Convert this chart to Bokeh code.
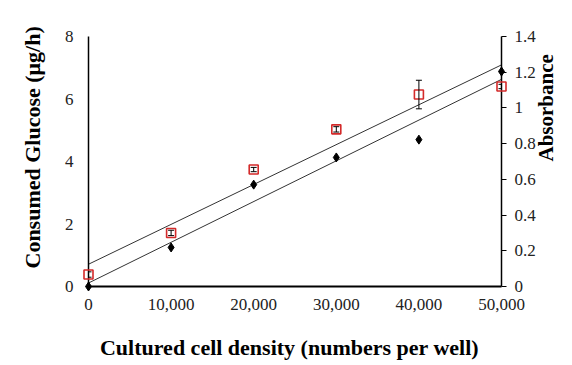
import numpy as np
from bokeh.plotting import figure
from bokeh.models import (Range1d, LinearAxis, FixedTicker, NumeralTickFormatter,
                          Title, ColumnDataSource, Whisker)
from bokeh.embed import file_html
from bokeh.resources import INLINE

# ---- data ----
cell_density = [0, 10000, 20000, 30000, 40000, 50000]
glucose = [0.0, 1.25, 3.26, 4.13, 4.70, 6.88]          # left axis (µg/h)
absorbance = [0.067, 0.30, 0.655, 0.88, 1.075, 1.12]   # right axis
absorbance_err = [0.015, 0.015, 0.012, 0.015, 0.08, 0.012]

left_ticks = [0, 2, 4, 6, 8]
right_ticks = [0, 0.2, 0.4, 0.6, 0.8, 1.0, 1.2, 1.4]
x_ticks = [0, 10000, 20000, 30000, 40000, 50000]

FONT = "Liberation Serif"

p = figure(width=572, height=365, output_backend="svg", toolbar_location=None,
           x_range=Range1d(0, 50000), y_range=Range1d(0, 8))
p.min_border_left = 88
p.min_border_right = 70
p.min_border_top = 36
p.min_border_bottom = 79
p.outline_line_color = None
p.grid.visible = False
p.background_fill_color = "white"
p.border_fill_color = "white"

p.extra_y_ranges = {"abs": Range1d(0, 1.4)}

# axes
xa = p.xaxis[0]
xa.ticker = FixedTicker(ticks=x_ticks)
xa.formatter = NumeralTickFormatter(format="0,0")
xa.major_tick_out = 0
xa.major_tick_in = 0
xa.minor_tick_line_color = None
xa.axis_line_width = 2
xa.axis_line_color = "black"
xa.major_label_standoff = 12
xa.major_label_text_font = FONT
xa.major_label_text_font_size = "17px"
xa.major_label_text_color = "#222222"
xa.axis_label = "Cultured  cell  density (numbers per well)"
xa.axis_label_standoff = 22
xa.axis_label_text_font = FONT
xa.axis_label_text_font_size = "22px"
xa.axis_label_text_font_style = "bold"
xa.axis_label_text_color = "black"

ya = p.yaxis[0]
ya.ticker = FixedTicker(ticks=left_ticks)
ya.major_tick_out = 0
ya.major_tick_in = 0
ya.minor_tick_line_color = None
ya.axis_line_width = 1.5
ya.axis_line_color = "black"
ya.major_label_standoff = 15
ya.major_label_text_font = FONT
ya.major_label_text_font_size = "17px"
ya.major_label_text_color = "#222222"

ra = LinearAxis(y_range_name="abs", ticker=FixedTicker(ticks=right_ticks),
                formatter=NumeralTickFormatter(format="0.[0]"))
ra.major_tick_out = 5
ra.major_tick_in = 0
ra.major_tick_line_width = 1.2
ra.minor_tick_line_color = None
ra.axis_line_width = 1.5
ra.axis_line_color = "black"
ra.major_label_standoff = 8
ra.major_label_text_font = FONT
ra.major_label_text_font_size = "17px"
ra.major_label_text_color = "#222222"
ra.axis_label = "Absorbance"
ra.axis_label_orientation = np.pi / 2
ra.axis_label_standoff = 7
ra.axis_label_text_font = FONT
ra.axis_label_text_font_size = "21px"
ra.axis_label_text_font_style = "bold"
ra.axis_label_text_color = "black"
p.add_layout(ra, "right")

# trend lines (least-squares fits of the plotted data)
xs = np.array(cell_density, dtype=float)
kg = np.polyfit(xs, glucose, 1)
ka = np.polyfit(xs, absorbance, 1)
xline = [x_ticks[0], x_ticks[-1]]
p.line(xline, [kg[1] + kg[0] * x for x in xline], line_color="#333333", line_width=1)
p.line(xline, [ka[1] + ka[0] * x for x in xline], line_color="#333333", line_width=1,
       y_range_name="abs")

# error bars
src = ColumnDataSource(dict(x=cell_density, y=absorbance,
                            lo=[a - e for a, e in zip(absorbance, absorbance_err)],
                            hi=[a + e for a, e in zip(absorbance, absorbance_err)]))
w = Whisker(base="x", lower="lo", upper="hi", source=src, y_range_name="abs",
            line_color="black", line_width=1, level="overlay")
w.upper_head.size = 6
w.lower_head.size = 6
w.upper_head.line_color = "black"
w.lower_head.line_color = "black"
p.add_layout(w)

# markers
r1 = p.scatter(cell_density, glucose, marker="diamond", size=9, color="black")
r2 = p.scatter(cell_density, absorbance, marker="square", size=9, fill_color=None,
               line_color="#d42a2a", line_width=1.6, y_range_name="abs")
r1.level = "overlay"
r2.level = "overlay"

# left axis title
t_left = Title(text="Consumed Glucose (\u03bcg/h)", align="left", offset=18, standoff=33)
t_left.text_font = FONT
t_left.text_font_size = "22px"
t_left.text_font_style = "bold"
t_left.text_color = "black"
p.add_layout(t_left, "left")

open("out.html", "w").write(file_html(p, INLINE))
